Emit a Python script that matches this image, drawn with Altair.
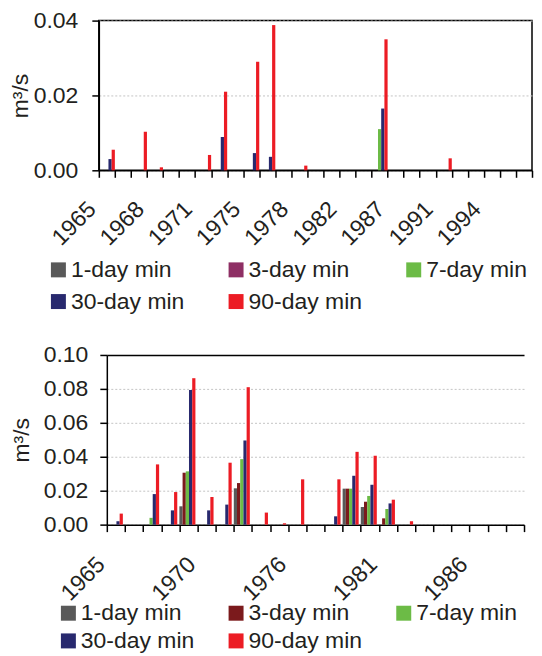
import altair as alt
import pandas as pd

SERIES = ["1-day min", "3-day min", "7-day min", "30-day min", "90-day min"]

# ---------------- top panel ----------------
top_years = ["1965", "1966", "1967", "1968", "1969", "1970", "1971", "1973", "1974",
             "1975", "1976", "1977", "1978", "1980", "1981", "1982", "1985", "1986",
             "1987", "1989", "1990", "1991", "1992", "1993", "1994", "1995", "1996"]
top_labels = ["1965", "1968", "1971", "1975", "1978", "1982", "1987", "1991", "1994"]
top_1day = [0, 0, 0, 0, 0, 0, 0, 0, 0, 0, 0, 0, 0, 0, 0, 0, 0, 0, 0, 0, 0, 0, 0, 0, 0, 0, 0]
top_3day = [0, 0, 0, 0, 0, 0, 0, 0, 0, 0, 0, 0, 0, 0, 0, 0, 0, 0, 0, 0, 0, 0, 0, 0, 0, 0, 0]
top_7day = [0, 0, 0, 0, 0, 0, 0, 0, 0, 0, 0, 0, 0, 0, 0, 0, 0, 0.011, 0, 0, 0, 0, 0, 0, 0, 0, 0]
top_30day = [0.003, 0, 0, 0, 0, 0, 0, 0.0089, 0, 0.0046, 0.0036, 0, 0, 0, 0, 0, 0, 0.0165,
             0, 0, 0, 0, 0, 0, 0, 0, 0]
top_90day = [0.0055, 0, 0.0103, 0.0008, 0, 0, 0.0041, 0.021, 0, 0.029, 0.0388, 0, 0.00125,
             0, 0, 0, 0, 0.035, 0, 0, 0, 0.0032, 0, 0, 0, 0, 0]
top_yticks = [0.0, 0.02, 0.04]

# ---------------- bottom panel ----------------
bot_years = ["1965", "1966", "1967", "1968", "1969", "1970", "1971", "1972", "1974",
             "1975", "1976", "1977", "1978", "1979", "1980", "1981", "1982", "1983",
             "1984", "1985", "1986", "1987", "1988"]
bot_labels = ["1965", "1970", "1976", "1981", "1986"]
bot_1day = [0, 0, 0, 0, 0.0108, 0, 0, 0.0214, 0, 0, 0, 0, 0, 0.0212, 0.0104, 0, 0, 0, 0, 0, 0, 0, 0]
bot_3day = [0, 0, 0, 0, 0.0306, 0, 0, 0.0245, 0, 0, 0, 0, 0, 0.0212, 0.0135, 0.0037, 0, 0, 0, 0, 0, 0, 0]
bot_7day = [0, 0, 0.004, 0, 0.0314, 0, 0, 0.0386, 0, 0, 0, 0, 0, 0.0212, 0.0169, 0.0092, 0, 0, 0, 0, 0, 0, 0]
bot_30day = [0.002, 0, 0.018, 0.0084, 0.0794, 0.0084, 0.0118, 0.0496, 0, 0, 0, 0, 0.0049, 0.0288,
             0.0235, 0.0125, 0, 0, 0, 0, 0, 0, 0]
bot_90day = [0.0065, 0, 0.0355, 0.0192, 0.0863, 0.0163, 0.0365, 0.081, 0.0071, 0.0008, 0.0267, 0,
             0.0267, 0.0429, 0.0406, 0.0147, 0.002, 0, 0, 0, 0, 0, 0]
bot_yticks = [0.0, 0.02, 0.04, 0.06, 0.08, 0.10]

top_fill = ["#595959", "#8E2F64", "#6CBB46", "#28296E", "#EC1C24"]
bot_fill = ["#595959", "#7B1A1C", "#6CBB46", "#28296E", "#EC1C24"]

FONT = "Liberation Sans"
TXT = "#231F20"


def long_df(years, cols):
    rows = []
    for s, vals in zip(SERIES, cols):
        for y, v in zip(years, vals):
            rows.append({"year": y, "series": s, "value": v})
    return pd.DataFrame(rows)


def label_expr(labels):
    arr = ",".join("'%s'" % l for l in labels)
    return "indexof([%s], datum.value) >= 0 ? datum.value : ''" % arr


def x_enc(years, labels, lab_pad, lab_off):
    return alt.X(
        "year:N", sort=years,
        scale=alt.Scale(paddingInner=0, paddingOuter=0),
        axis=alt.Axis(title=None, labelAngle=-45, labelAlign="right", labelBaseline="middle",
                      labelExpr=label_expr(labels), labelOverlap=False, tickBand="extent",
                      tickSize=7, tickWidth=1.5, tickColor="black", domainColor="black",
                      domainWidth=1.5, labelFontSize=23, labelFont=FONT, labelColor=TXT,
                      labelPadding=lab_pad, labelOffset=lab_off, grid=False),
    )


def xoff():
    return alt.XOffset("series:N", sort=SERIES,
                       scale=alt.Scale(domain=SERIES, paddingInner=0, paddingOuter=0))


def legend(lx, ly, colpad, rowpad):
    return alt.Legend(title=None, orient="none", legendX=lx, legendY=ly, columns=3,
                      direction="horizontal", symbolType="square", symbolSize=225,
                      symbolStrokeWidth=0, labelFontSize=23, labelFont=FONT, labelColor=TXT,
                      labelOffset=1, columnPadding=colpad, rowPadding=rowpad, padding=0)


def y_axis(vals, tpad, lpad, **grid):
    return alt.Axis(title="m³/s", values=vals, format=".2f", tickSize=7,
                    tickWidth=1.5, tickColor="black", domainColor="black",
                    domainWidth=1.5, labelFontSize=23, labelFont=FONT, labelColor=TXT,
                    labelPadding=lpad, titleFontSize=23, titleFont=FONT,
                    titleFontWeight="normal", titleColor=TXT, titlePadding=tpad,
                    grid=True, **grid)


# top chart
top_df = long_df(top_years, [top_1day, top_3day, top_7day, top_30day, top_90day])
top = alt.Chart(top_df).mark_bar().encode(
    x=x_enc(top_years, top_labels, 28, -15),
    xOffset=xoff(),
    y=alt.Y("value:Q", scale=alt.Scale(domain=[0, 0.04], nice=False),
            axis=y_axis(top_yticks, 1, 14, gridColor="#C4C4C4", gridDash=[2, 2], gridWidth=1)),
    fill=alt.Fill("series:N", sort=SERIES,
                  scale=alt.Scale(domain=SERIES, range=top_fill),
                  legend=legend(-52, 238, 40, 8)),
).properties(width=434, height=150,
             view=alt.ViewBackground(stroke="black", strokeWidth=1.5))

# bottom chart
bot_df = long_df(bot_years, [bot_1day, bot_3day, bot_7day, bot_30day, bot_90day])
cond = "datum.value >= 0.099"
bottom = alt.Chart(bot_df).mark_bar().encode(
    x=x_enc(bot_years, bot_labels, 29, -15),
    xOffset=xoff(),
    y=alt.Y("value:Q", scale=alt.Scale(domain=[0, 0.10], nice=False),
            axis=y_axis(bot_yticks, 10, 12,
                        gridColor={"condition": {"test": cond, "value": "black"}, "value": "#C4C4C4"},
                        gridDash={"condition": {"test": cond, "value": []}, "value": [2, 2]},
                        gridWidth={"condition": {"test": cond, "value": 1.5}, "value": 1})),
    fill=alt.Fill("series:N", sort=SERIES,
                  scale=alt.Scale(domain=SERIES, range=bot_fill),
                  legend=legend(-50, 247, 30, 4)),
).properties(width=418, height=170,
             view=alt.ViewBackground(strokeOpacity=0))

chart = alt.vconcat(top, bottom, spacing=185, bounds="flush", center=True).resolve_scale(
    fill="independent"
).resolve_legend(fill="independent").properties(
    padding={"left": 0, "top": 0, "right": 0, "bottom": 0}
).configure(font=FONT)

chart.save("out.html", embed_options={"renderer": "svg", "actions": False})
